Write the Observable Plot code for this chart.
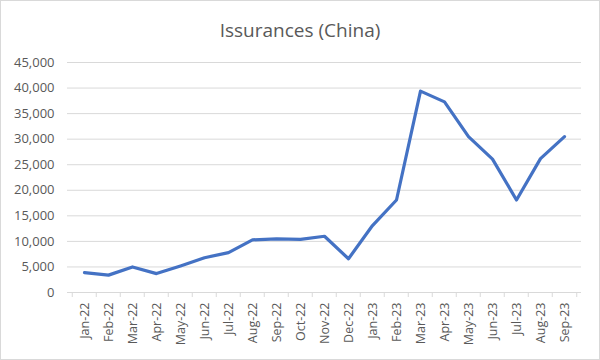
<!DOCTYPE html>
<html>
<head>
<meta charset="utf-8">
<script src="https://cdn.jsdelivr.net/npm/d3@7"></script>
<script src="https://cdn.jsdelivr.net/npm/@observablehq/plot@0.6"></script>
<style>
  html, body { margin: 0; padding: 0; background: #fff; }
  #chart { width: 598px; height: 358px; border: 1px solid #d9d9d9; background: #fff; }
  #title { height: 48px; line-height: 58px; text-align: center; font-family: "Open Sans", sans-serif; font-size: 19px; color: #595959; }
  svg { display: block; }
</style>
</head>
<body>
<div id="chart"><div id="title">Issurances (China)</div></div>
<script>
const months = ["Jan-22","Feb-22","Mar-22","Apr-22","May-22","Jun-22","Jul-22","Aug-22","Sep-22","Oct-22","Nov-22","Dec-22","Jan-23","Feb-23","Mar-23","Apr-23","May-23","Jun-23","Jul-23","Aug-23","Sep-23"];
const values = [3900, 3400, 5000, 3700, 5200, 6800, 7800, 10300, 10500, 10400, 11000, 6600, 13100, 18100, 39400, 37300, 30500, 26100, 18100, 26200, 30500];
const yTicks = [0, 5000, 10000, 15000, 20000, 25000, 30000, 35000, 40000, 45000];

const data = months.map((m, i) => ({month: m, value: values[i]}));

const W = 598, H = 310, mL = 66, mR = 18, mT = 13, mB = 67;
const step = (W - mL - mR) / months.length;
const textColor = "#595959";

const chart = Plot.plot({
  width: W,
  height: H,
  marginLeft: mL,
  marginRight: mR,
  marginTop: mT,
  marginBottom: mB,
  style: {fontFamily: "'Open Sans', sans-serif", fontSize: "12.5px", color: textColor, background: "#fff"},
  x: {type: "point", domain: months, padding: 0.5},
  y: {domain: [0, 45000]},
  marks: [
    Plot.gridY(yTicks, {stroke: "#d9d9d9", strokeOpacity: 1, strokeWidth: 1}),
    Plot.axisY(yTicks, {tickSize: 0, tickPadding: 13, tickFormat: d3.format(","), label: null, fill: textColor, fontSize: 13}),
    // category boundary tick marks below the axis
    Plot.ruleX(months, {x: d => d, dx: -step / 2, stroke: "#d9d9d9", insetTop: H - mT - mB, insetBottom: -5}),
    Plot.ruleX([months[months.length - 1]], {x: d => d, dx: step / 2, stroke: "#d9d9d9", insetTop: H - mT - mB, insetBottom: -5}),
    Plot.axisX({tickSize: 0, tickPadding: 10, tickRotate: -90, label: null, fill: textColor, fontSize: 12.5}),
    Plot.line(data, {x: "month", y: "value", stroke: "#4472C4", strokeWidth: 3.2, strokeLinejoin: "round", strokeLinecap: "round"})
  ]
});
document.getElementById("chart").appendChild(chart);
</script>
</body>
</html>
